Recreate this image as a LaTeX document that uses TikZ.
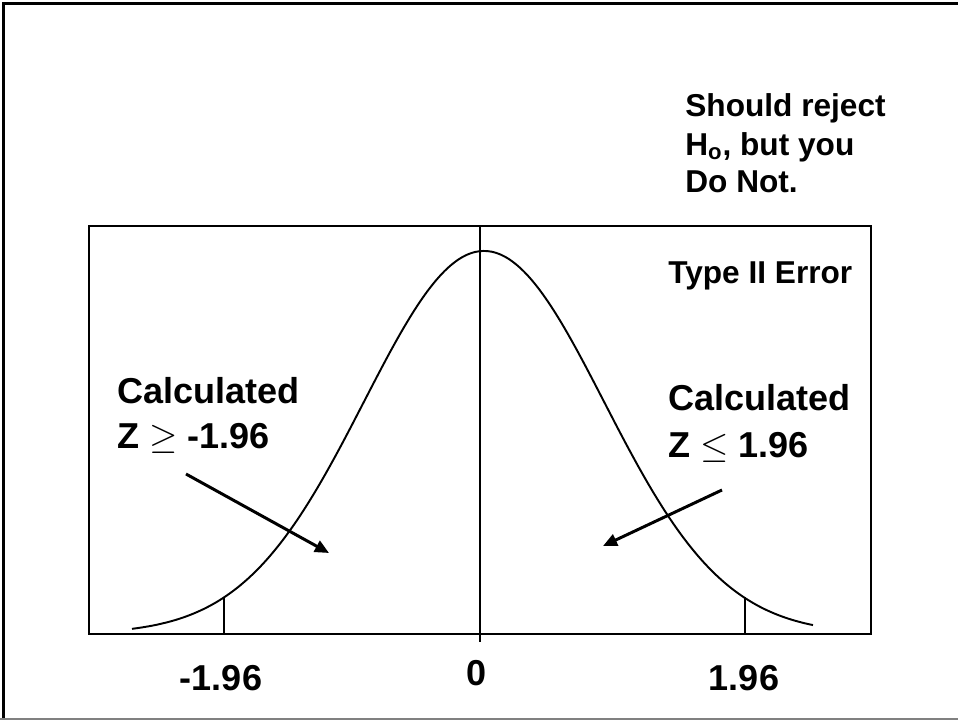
\documentclass[tikz,border=0pt]{standalone}
\usepackage{fontspec}
\setmainfont{Liberation Sans}
\usetikzlibrary{arrows.meta}
\definecolor{FrameGray}{HTML}{808080}

\begin{document}
\begin{tikzpicture}[x=0.02cm,y=-0.02cm,
  bigtext/.style={inner sep=0pt,anchor=base west,font=\fontsize{20.5}{24}\selectfont\bfseries},
  smalltext/.style={inner sep=0pt,anchor=base west,font=\fontsize{18}{21.5}\selectfont\bfseries},
  pointer/.style={line width=1.7pt,-{Triangle[length=8pt,width=7pt]}}]
  \useasboundingbox (0,0) rectangle (958,720);
  % page frame
  \draw[line width=1.5pt] (3.5,720)--(3.5,3.5)--(958,3.5);
  \draw[FrameGray,line width=0.8pt] (0,719)--(958,719);
  % plot box and curve
  \coordinate (BL) at (89,634);\coordinate (TR) at (871,226);
  \coordinate (M0) at (480,226);\coordinate (M1) at (480,642);
  \coordinate (TL0) at (224,634);\coordinate (TL1) at (224,597);
  \coordinate (TR0) at (745,634);\coordinate (TR1) at (745,597);
  \draw[line width=1.2pt] (BL) rectangle (TR);
  \draw[line width=1pt] (M0)--(M1);
  \draw[line width=1.1pt] plot[domain=132:813,samples=160,smooth] (\x,{634-383*exp(-0.5*((\x-484)/120)^2)});
  \draw[line width=0.9pt] (TL0)--(TL1) (TR0)--(TR1);
  % arrows
  \coordinate (LA0) at (186,474);\coordinate (LA1) at (329,553);
  \coordinate (RA0) at (722,490);\coordinate (RA1) at (603,546);
  \draw[pointer] (LA0)--(LA1);
  \draw[pointer] (RA0)--(RA1);
  % labels
  \node[smalltext] (rej1) at (685,116) {Should reject};
  \node[smalltext] (rej2) at (685,155) {H\textsubscript{o}, but you};
  \node[smalltext] (rej3) at (685,192) {Do Not.};
  \node[smalltext] (typeII) at (668,283) {Type II Error};
  \node[bigtext] (calcL) at (117,403) {Calculated};
  \node[bigtext] (zL) at (117,448) {Z $\geq$ -1.96};
  \node[bigtext] (calcR) at (668,410) {Calculated};
  \node[bigtext] (zR) at (668,457) {Z $\leq$ 1.96};
  \node[bigtext,anchor=base] (xL) at (221,690) {-1.96};
  \node[bigtext,anchor=base] (x0) at (477,685) {0};
  \node[bigtext,anchor=base] (xR) at (744,690) {1.96};
\end{tikzpicture}
\end{document}
